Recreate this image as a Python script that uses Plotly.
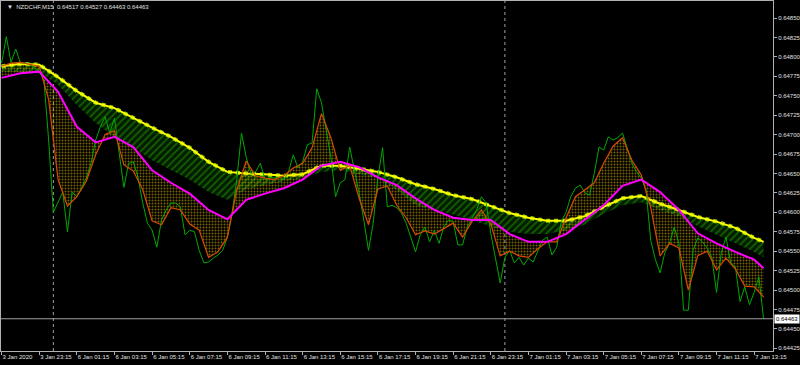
import pandas as pd
import plotly.graph_objects as go

# ---------------- data ----------------
symbol = "NZDCHF,M15"
last_open, last_high, last_low = 0.64517, 0.64527, 0.64463

# bar times: Friday 3 Jan tail + Monday/Tuesday (MT4 compresses weekend)
bar_times = list(pd.date_range("2020-01-03 21:15", "2020-01-03 23:45", freq="15min")) + \
            list(pd.date_range("2020-01-06 00:00", periods=152, freq="15min"))

close = [
    0.64792, 0.64826, 0.64793, 0.64810, 0.64792, 0.64792, 0.64790, 0.64786, 0.64781, 0.64770,
    0.64693, 0.64600, 0.64613, 0.64626, 0.64575, 0.64626, 0.64620, 0.64632, 0.64644, 0.64663,
    0.64693, 0.64710, 0.64723, 0.64702, 0.64721, 0.64676, 0.64632, 0.64663, 0.64665, 0.64645,
    0.64612, 0.64586, 0.64577, 0.64555, 0.64590, 0.64603, 0.64612, 0.64612, 0.64607, 0.64571,
    0.64577, 0.64575, 0.64551, 0.64535, 0.64536, 0.64541, 0.64545, 0.64551, 0.64568, 0.64599,
    0.64642, 0.64702, 0.64671, 0.64650, 0.64652, 0.64663, 0.64642, 0.64645, 0.64644, 0.64645,
    0.64642, 0.64652, 0.64674, 0.64657, 0.64665, 0.64687, 0.64689, 0.64759, 0.64741, 0.64706,
    0.64671, 0.64620, 0.64638, 0.64642, 0.64684, 0.64654, 0.64625, 0.64590, 0.64551, 0.64586,
    0.64645, 0.64683, 0.64607, 0.64609, 0.64606, 0.64599, 0.64586, 0.64568, 0.64549, 0.64571,
    0.64581, 0.64562, 0.64577, 0.64560, 0.64581, 0.64590, 0.64588, 0.64558, 0.64558, 0.64581,
    0.64593, 0.64603, 0.64620, 0.64612, 0.64573, 0.64539, 0.64509, 0.64542, 0.64551, 0.64535,
    0.64542, 0.64532, 0.64541, 0.64536, 0.64551, 0.64564, 0.64568, 0.64545, 0.64555, 0.64588,
    0.64600, 0.64620, 0.64631, 0.64635, 0.64625, 0.64622, 0.64650, 0.64684, 0.64680, 0.64697,
    0.64693, 0.64696, 0.64702, 0.64684, 0.64663, 0.64652, 0.64644, 0.64629, 0.64564, 0.64539,
    0.64522, 0.64548, 0.64560, 0.64581, 0.64560, 0.64474, 0.64474, 0.64551, 0.64567, 0.64562,
    0.64554, 0.64542, 0.64497, 0.64548, 0.64568, 0.64535, 0.64530, 0.64485, 0.64504, 0.64481,
    0.64497, 0.64517, 0.64463,
]

# fast MA (orange line), read every 2nd bar
fast_step = 2
fast_ma = [
    0.64788, 0.64792, 0.64793, 0.64790, 0.64788, 0.64745, 0.64642, 0.64608, 0.64620, 0.64640,
    0.64674, 0.64700, 0.64705, 0.64661, 0.64653, 0.64629, 0.64589, 0.64584, 0.64606, 0.64603,
    0.64585, 0.64577, 0.64542, 0.64549, 0.64568, 0.64629, 0.64666, 0.64647, 0.64644, 0.64642,
    0.64647, 0.64657, 0.64663, 0.64683, 0.64727, 0.64696, 0.64654, 0.64660, 0.64618, 0.64584,
    0.64630, 0.64634, 0.64609, 0.64593, 0.64571, 0.64576, 0.64572, 0.64579, 0.64586, 0.64568,
    0.64588, 0.64603, 0.64585, 0.64544, 0.64550, 0.64544, 0.64542, 0.64553, 0.64562, 0.64562,
    0.64593, 0.64620, 0.64629, 0.64638, 0.64663, 0.64685, 0.64696, 0.64667, 0.64648, 0.64606,
    0.64544, 0.64560, 0.64554, 0.64500, 0.64544, 0.64550, 0.64526, 0.64541, 0.64527, 0.64505,
    0.64504, 0.64491,
]

# slow lines, read every 4th bar (+ last bar)
slow_step = 4
mid_ma = [  # magenta
    0.64773, 0.64779, 0.64781, 0.64755, 0.64710, 0.64690, 0.64697, 0.64684, 0.64654, 0.64638,
    0.64624, 0.64603, 0.64591, 0.64616, 0.64624, 0.64631, 0.64642, 0.64660, 0.64665, 0.64658,
    0.64645, 0.64635, 0.64618, 0.64603, 0.64593, 0.64590, 0.64590, 0.64572, 0.64562, 0.64562,
    0.64572, 0.64591, 0.64609, 0.64634, 0.64642, 0.64626, 0.64603, 0.64573, 0.64560, 0.64549,
    0.64539, 0.64528,
]
slow_top = [  # yellow edge of the slow ribbon
    0.64788, 0.64791, 0.64790, 0.64774, 0.64756, 0.64741, 0.64734, 0.64721, 0.64709, 0.64697,
    0.64683, 0.64665, 0.64652, 0.64650, 0.64649, 0.64647, 0.64649, 0.64660, 0.64660, 0.64656,
    0.64652, 0.64645, 0.64636, 0.64630, 0.64622, 0.64617, 0.64608, 0.64599, 0.64593, 0.64589,
    0.64589, 0.64595, 0.64607, 0.64618, 0.64621, 0.64611, 0.64603, 0.64594, 0.64588, 0.64580,
    0.64567, 0.64562,
]
slow_bottom = [  # dark green edge of the slow ribbon
    0.64781, 0.64781, 0.64781, 0.64764, 0.64738, 0.64715, 0.64697, 0.64683, 0.64667, 0.64654,
    0.64642, 0.64626, 0.64616, 0.64630, 0.64635, 0.64640, 0.64644, 0.64652, 0.64654, 0.64649,
    0.64644, 0.64629, 0.64609, 0.64603, 0.64597, 0.64589, 0.64582, 0.64575, 0.64572, 0.64572,
    0.64577, 0.64584, 0.64598, 0.64609, 0.64613, 0.64603, 0.64595, 0.64582, 0.64571, 0.64560,
    0.64549, 0.64542,
]

price_tick0, price_dtick = 0.64425, 0.00025
y_range = [0.644215, 0.648719]

# ---------------- derived positions ----------------
n = len(close)
bx = list(range(n))
fx = list(range(0, n, fast_step))
sx = list(range(0, n - 1, slow_step)) + [n - 1]
sx = sx[:len(slow_top)]

label_idx = [0] + list(range(8, n, 8))
label_txt = []
for i in label_idx:
    t = bar_times[i]
    label_txt.append(f"{t.day} {t:%b} {t.year}" if i == 0 else f"{t.day} {t:%b} {t:%H:%M}")
day_starts = [i for i in range(1, n) if bar_times[i].date() != bar_times[i - 1].date()]

fig = go.Figure()

# slow ribbon (green hatched band)
fig.add_trace(go.Scatter(
    x=sx + sx[::-1], y=slow_top + slow_bottom[::-1], mode="lines", fill="toself",
    line=dict(width=0, color="rgba(0,0,0,0)"),
    fillcolor="rgb(0,30,0)",
    fillpattern=dict(shape="/", fgcolor="rgb(40,160,0)", bgcolor="rgb(0,28,0)", size=5, solidity=0.35),
    hoverinfo="skip", showlegend=False))
fig.add_trace(go.Scatter(x=sx, y=slow_top, mode="lines",
                         line=dict(color="rgb(150,210,0)", width=4, dash="dot"), hoverinfo="skip", showlegend=False))
fig.add_trace(go.Scatter(x=sx, y=slow_top, mode="lines",
                         line=dict(color="#ffff00", width=2), hoverinfo="skip", showlegend=False))

# fast fan (dotted yellow)
fan_x = fx + sx[::-1]
fan_y = fast_ma + mid_ma[::-1]
fig.add_trace(go.Scatter(
    x=fan_x, y=fan_y, mode="lines", fill="toself",
    line=dict(width=0, color="rgba(0,0,0,0)"), fillcolor="rgba(0,0,0,0)",
    fillpattern=dict(shape=".", fgcolor="rgb(240,195,0)", bgcolor="rgba(0,0,0,0)", size=3, solidity=0.35),
    hoverinfo="skip", showlegend=False))

fig.add_trace(go.Scatter(x=bx, y=close, mode="lines",
                         line=dict(color="rgb(0,170,0)", width=1), hoverinfo="skip", showlegend=False))
fig.add_trace(go.Scatter(x=fx, y=fast_ma, mode="lines",
                         line=dict(color="rgb(215,75,0)", width=1.2), hoverinfo="skip", showlegend=False))
fig.add_trace(go.Scatter(x=sx, y=mid_ma, mode="lines",
                         line=dict(color="#ff00ff", width=2), hoverinfo="skip", showlegend=False))

shapes = []
for d in day_starts:
    shapes.append(dict(type="line", xref="x", yref="paper", x0=d, x1=d, y0=0, y1=1,
                       line=dict(color="#a0a0a0", width=1, dash="dot"), layer="below"))
shapes.append(dict(type="line", xref="paper", yref="y", x0=0, x1=1, y0=close[-1], y1=close[-1],
                   line=dict(color="#a0a0a0", width=1)))

font = dict(family="Liberation Sans, Arial, sans-serif", size=6, color="#e0e0e0")
annotations = [
    dict(xref="paper", yref="paper", x=0, y=1, xanchor="left", yanchor="top", xshift=4, yshift=-1,
         showarrow=False, font=font,
         text=f"▼  {symbol}  {last_open:.5f} {last_high:.5f} {last_low:.5f} {close[-1]:.5f}"),
    dict(xref="paper", yref="y", x=1, y=close[-1], xanchor="left", yanchor="middle", xshift=1,
         showarrow=False, bgcolor="#ffffff", borderpad=1,
         font=dict(family=font["family"], size=6, color="#000000"), text=f"{close[-1]:.5f}"),
]

fig.update_layout(
    width=800, height=365, margin=dict(l=1, r=27, t=1, b=14, autoexpand=False),
    paper_bgcolor="#000000", plot_bgcolor="#000000", font=font,
    shapes=shapes, annotations=annotations, showlegend=False,
    xaxis=dict(range=[-0.13, 164.0], tickmode="array", tickvals=label_idx, ticktext=label_txt,
               ticks="outside", ticklen=3, tickcolor="#b0b0b0", ticklabelposition="outside right",
               tickangle=0, automargin=False,
               showgrid=False, zeroline=False, showline=True, linecolor="#b0b0b0", mirror=True,
               tickfont=font, fixedrange=True),
    yaxis=dict(range=y_range, side="right", tick0=price_tick0, dtick=price_dtick, tickformat=".5f",
               ticks="outside", ticklen=3, tickcolor="#b0b0b0", showgrid=False, zeroline=False,
               automargin=False,
               showline=True, linecolor="#b0b0b0", mirror=True, tickfont=font, fixedrange=True),
)

fig.write_html("out.html", config={"displayModeBar": False})
